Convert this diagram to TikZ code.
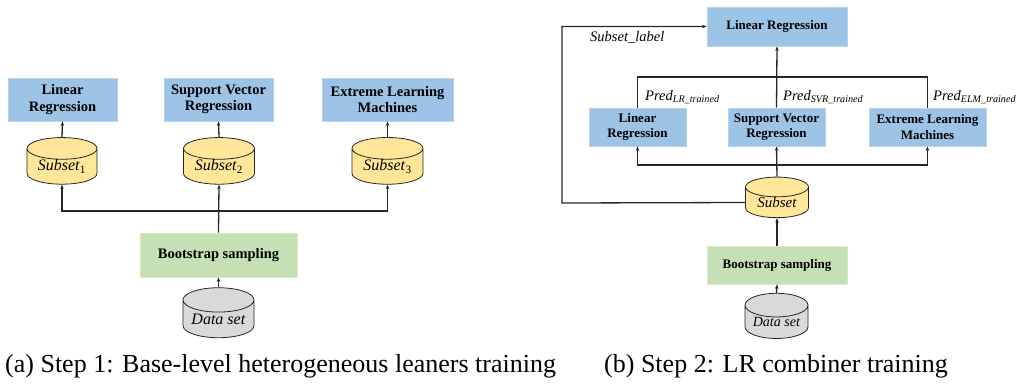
\documentclass[tikz,border=0pt]{standalone}
\usepackage{fontspec}
\setmainfont{Liberation Serif}
\usetikzlibrary{shapes.geometric,arrows.meta}
\definecolor{boxblue}{HTML}{9DC3E6}
\definecolor{boxblueline}{HTML}{B8D3EE}
\definecolor{boxgreen}{HTML}{C5E0B4}
\definecolor{boxgreenline}{HTML}{D6EACB}
\definecolor{cylyellow}{HTML}{FFE699}
\definecolor{cylgray}{HTML}{D9D9D9}
\definecolor{linegray}{HTML}{262626}
\tikzset{
  model/.style={rectangle, fill=boxblue, draw=boxblueline, line width=0.8pt, align=center, inner sep=0pt, font=\bfseries},
  sampler/.style={rectangle, fill=boxgreen, draw=boxgreenline, line width=0.8pt, align=center, inner sep=0pt, font=\bfseries},
  dbase/.style={cylinder, shape border rotate=90, draw=linegray, line width=0.8pt, inner sep=0pt, aspect=0.45},
  subsetdb/.style={dbase, fill=cylyellow},
  datadb/.style={dbase, fill=cylgray},
  conn/.style={draw=linegray, line width=1.3pt, -{Stealth[length=4.5pt,width=3.5pt]}},
  plain/.style={draw=linegray, line width=1.3pt},
  lbl/.style={inner sep=0pt, anchor=west, font=\fontsize{14.5}{16}\selectfont},
  caption/.style={inner sep=0pt, anchor=base west, font=\fontsize{26}{30}\selectfont},
}
\begin{document}
\begin{tikzpicture}[x=1pt,y=-1pt]
\useasboundingbox (0,0) rectangle (1023,384);
% ---------- (a) ----------
\node[model, minimum width=109pt, minimum height=43pt, font=\bfseries\fontsize{14.5}{16.5}\selectfont] (lr1) at (62.5,99.5) {Linear\\Regression};
\node[model, minimum width=109pt, minimum height=43pt, font=\bfseries\fontsize{14.5}{16.5}\selectfont] (svr1) at (218.5,99.5) {Support Vector\\Regression};
\node[model, minimum width=131pt, minimum height=43pt, font=\bfseries\fontsize{14.5}{16.5}\selectfont] (elm1) at (387.5,99.5) {Extreme Learning\\Machines};
\node[subsetdb, minimum width=70pt, minimum height=43pt, font=\fontsize{16}{18}\selectfont] (s1) at (62,166.5) {\textit{Subset}\textsubscript{1}};
\node[subsetdb, minimum width=71pt, minimum height=43pt, font=\fontsize{16}{18}\selectfont] (s2) at (219,166.5) {\textit{Subset}\textsubscript{2}};
\node[subsetdb, minimum width=71pt, minimum height=43pt, font=\fontsize{16}{18}\selectfont] (s3) at (387.5,166.5) {\textit{Subset}\textsubscript{3}};
\node[sampler, minimum width=157pt, minimum height=44pt, font=\bfseries\fontsize{14.5}{16.5}\selectfont] (boot1) at (218.5,255) {Bootstrap sampling};
\node[datadb, minimum width=71pt, minimum height=50pt, font=\fontsize{16}{18}\selectfont] (data1) at (218.5,319) {\textit{Data set}};
\coordinate (j1) at (219,211);
\draw[conn] (s1.top) -- (lr1.south);
\draw[conn] (s2.top) -- (svr1.south);
\draw[conn] (s3.top) -- (elm1.south);
\draw[conn] (boot1.north) -- (s2.bottom);
\draw[conn] (j1) -| (s1.bottom);
\draw[conn] (j1) -| (s3.bottom);
\draw[conn] (data1.top) -- (boot1.south);
\node[caption] (capa) at (5,372) {(a) Step 1: Base-level heterogeneous leaners training};
% ---------- (b) ----------
\node[model, minimum width=140pt, minimum height=39pt, font=\bfseries\fontsize{13}{15}\selectfont] (lrtop) at (777,26.5) {Linear Regression};
\node[model, minimum width=97pt, minimum height=38pt, font=\bfseries\fontsize{13}{15.5}\selectfont] (lr2) at (637.5,127) {Linear\\Regression};
\node[model, minimum width=97pt, minimum height=38pt, font=\bfseries\fontsize{13}{15.5}\selectfont] (svr2) at (776.5,127) {Support Vector\\Regression};
\node[model, minimum width=117pt, minimum height=38pt, font=\bfseries\fontsize{13}{15.5}\selectfont] (elm2) at (927.5,127) {Extreme Learning\\Machines};
\node[subsetdb, minimum width=63pt, minimum height=39pt, aspect=0.5, font=\fontsize{15}{17}\selectfont] (sub) at (777,202.5) {\textit{Subset}};
\node[sampler, minimum width=140pt, minimum height=38pt, font=\bfseries\fontsize{13}{15}\selectfont] (boot2) at (777,265) {Bootstrap sampling};
\node[datadb, minimum width=63pt, minimum height=40pt, aspect=0.5, font=\fontsize{14}{16}\selectfont] (data2) at (776.5,322) {\textit{Data set}};
\coordinate (j2) at (777,165);
\coordinate (j3) at (777,77);
\coordinate (corner) at (562,203);
\draw[conn] (data2.top) -- (boot2.south);
\draw[conn] (boot2.north) -- (sub.bottom);
\draw[conn] (sub.top) -- (svr2.south);
\draw[conn] (j2) -| (lr2.south);
\draw[conn] (j2) -| (elm2.south);
\draw[conn] (svr2.north) -- (lrtop.south);
\draw[plain] (lr2.north) |- (j3);
\draw[plain] (elm2.north) |- (j3);
\draw[conn] (sub.west) -- (corner) |- (lrtop.west);
\node[lbl] (sublabel) at (590,37) {\textit{Subset\_label}};
\node[lbl] (p1) at (645,97) {\textit{Pred}\textsubscript{\textit{LR\_trained}}};
\node[lbl] (p2) at (783,97) {\textit{Pred}\textsubscript{\textit{SVR\_trained}}};
\node[lbl] (p3) at (933,97) {\textit{Pred}\textsubscript{\textit{ELM\_trained}}};
\node[caption] (capb) at (604,372) {(b) Step 2: LR combiner training};
\end{tikzpicture}
\end{document}
